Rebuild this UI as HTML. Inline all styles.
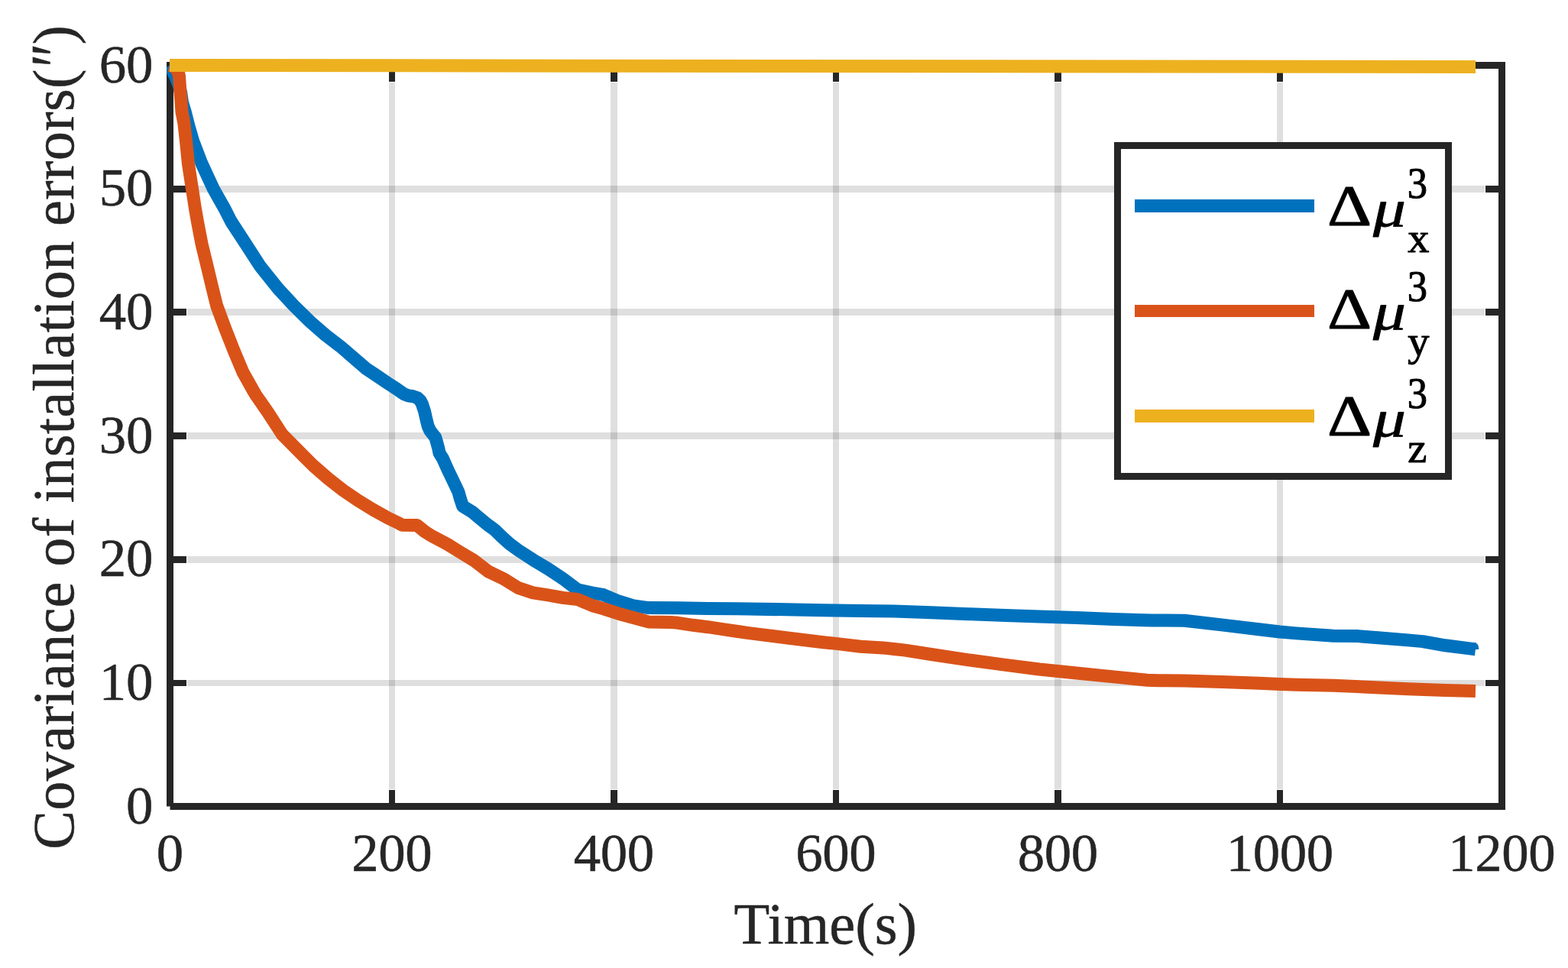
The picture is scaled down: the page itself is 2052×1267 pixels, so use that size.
<!DOCTYPE html>
<html lang="en"><head><meta charset="utf-8"><title>Covariance of installation errors</title>
<style>html,body{margin:0;padding:0;background:#fff;}body{width:2052px;height:1267px;overflow:hidden;}svg{display:block;}text{font-family:"Liberation Serif","DejaVu Serif",serif;}</style></head><body>
<svg width="2052" height="1267" viewBox="0 0 2052 1267">
<rect width="2052" height="1267" fill="#fff"/>
<g fill="#262626" fill-opacity="0.15" shape-rendering="crispEdges">
<rect x="509" y="108" width="8" height="925"/>
<rect x="799" y="108" width="9" height="925"/>
<rect x="1090" y="108" width="8" height="925"/>
<rect x="1380" y="108" width="9" height="925"/>
<rect x="1671" y="108" width="8" height="925"/>
<rect x="245" y="243" width="1698" height="9"/>
<rect x="245" y="404" width="1698" height="9"/>
<rect x="245" y="566" width="1698" height="9"/>
<rect x="245" y="728" width="1698" height="9"/>
<rect x="245" y="890" width="1698" height="8"/>
</g>
<path d="M222.5 1055.5 H1965.5 V85.5 H222.5 V1055.5" fill="none" stroke="#262626" stroke-width="9" stroke-linejoin="miter" stroke-linecap="butt"/>
<g fill="#262626" shape-rendering="crispEdges">
<rect x="509" y="1034" width="8" height="18"/>
<rect x="509" y="89" width="8" height="18"/>
<rect x="799" y="1034" width="9" height="18"/>
<rect x="799" y="89" width="9" height="18"/>
<rect x="1090" y="1034" width="8" height="18"/>
<rect x="1090" y="89" width="8" height="18"/>
<rect x="1380" y="1034" width="9" height="18"/>
<rect x="1380" y="89" width="9" height="18"/>
<rect x="1671" y="1034" width="8" height="18"/>
<rect x="1671" y="89" width="8" height="18"/>
<rect x="226" y="243" width="18" height="9"/>
<rect x="1944" y="243" width="18" height="9"/>
<rect x="226" y="404" width="18" height="9"/>
<rect x="1944" y="404" width="18" height="9"/>
<rect x="226" y="566" width="18" height="9"/>
<rect x="1944" y="566" width="18" height="9"/>
<rect x="226" y="728" width="18" height="9"/>
<rect x="1944" y="728" width="18" height="9"/>
<rect x="226" y="890" width="18" height="8"/>
<rect x="1944" y="890" width="18" height="8"/>
</g>
<defs><clipPath id="cp"><rect x="218.2" y="60" width="1760" height="1010"/></clipPath></defs>
<g fill="none" stroke-width="17" stroke-linejoin="round" stroke-linecap="butt" clip-path="url(#cp)">
<path stroke="#0072bd" d="M222.5 85.5 L229.0 99.0 L234.0 111.0 L236.8 122.0 L238.5 134.0 L242.3 146.7 L247.0 165.0 L252.8 185.0 L264.0 214.2 L279.4 247.4 L293.7 272.7 L302.5 290.0 L321.5 319.2 L340.5 348.5 L363.9 377.7 L384.5 400.0 L406.5 421.6 L425.9 438.5 L445.4 453.4 L464.9 470.2 L480.0 483.2 L489.7 489.5 L499.5 496.1 L509.2 502.7 L519.0 509.0 L528.7 515.8 L534.6 518.0 L540.4 518.7 L546.3 520.7 L550.2 524.6 L552.3 528.5 L555.5 538.2 L557.7 548.0 L560.1 557.7 L562.8 563.6 L565.8 567.5 L569.7 572.3 L571.1 577.2 L573.8 587.0 L575.0 593.0 L579.4 600.0 L585.9 614.6 L592.9 629.2 L599.9 643.9 L602.6 653.6 L605.6 662.4 L618.2 670.2 L628.0 678.5 L637.7 686.5 L647.5 693.6 L657.2 703.1 L667.0 711.9 L678.0 720.0 L697.5 732.7 L717.0 744.4 L736.5 757.3 L755.9 771.9 L775.4 776.0 L790.0 778.7 L809.5 787.0 L829.0 792.8 L848.5 795.6 L887.5 795.8 L926.5 796.4 L965.4 796.7 L980.0 797.0 L1028.7 797.8 L1077.5 798.7 L1126.2 799.5 L1170.0 800.1 L1218.7 801.7 L1267.5 803.7 L1316.2 805.5 L1360.0 806.9 L1408.7 808.4 L1457.5 810.5 L1506.2 811.9 L1550.0 812.3 L1598.7 817.9 L1647.5 823.8 L1674.8 827.0 L1696.2 828.9 L1745.0 832.3 L1777.2 832.6 L1803.5 834.7 L1842.5 837.9 L1862.0 839.6 L1891.2 844.8 L1925.3 849.1 L1931.0 849.8"/>
<path fill="#0072bd" stroke="none" d="M1930.5 841.4 Q1934.6 842.3 1935.2 848 V850 H1930.5 Z"/>
<path stroke="#d95319" d="M222.5 85.5 L229.0 88.0 L233.3 94.0 L234.5 99.7 L235.5 114.4 L236.9 131.5 L238.0 146.7 L240.8 161.0 L243.5 185.0 L246.4 214.2 L251.5 247.4 L255.4 272.7 L258.4 290.0 L264.0 319.2 L271.1 348.5 L278.1 377.7 L283.6 400.0 L294.4 429.2 L305.9 458.5 L318.2 487.7 L330.7 510.0 L334.8 517.0 L350.2 539.2 L369.2 568.5 L398.9 598.5 L410.0 609.5 L429.5 626.5 L449.0 641.7 L468.5 655.1 L488.0 667.0 L507.5 677.9 L522.1 684.9 L526.0 687.2 L545.5 687.4 L556.2 696.0 L566.0 702.1 L585.4 712.3 L600.0 721.4 L619.5 733.1 L639.0 748.0 L658.5 757.3 L678.0 769.4 L697.5 775.8 L717.0 778.9 L736.5 782.4 L755.9 784.5 L775.4 792.8 L790.0 796.8 L809.5 803.2 L829.0 808.5 L848.5 813.9 L877.7 814.4 L887.5 815.3 L907.0 818.3 L926.5 820.7 L945.9 823.6 L965.4 826.5 L980.0 828.6 L1028.7 834.8 L1077.5 840.7 L1094.0 842.4 L1126.2 846.3 L1155.4 847.9 L1170.0 849.5 L1184.6 851.1 L1218.7 856.5 L1267.5 863.8 L1316.2 870.4 L1360.0 876.0 L1408.7 881.0 L1457.5 885.9 L1501.3 890.3 L1516.0 890.8 L1550.0 890.9 L1598.7 892.5 L1647.5 894.2 L1674.8 895.4 L1696.2 896.2 L1745.0 897.2 L1793.7 899.5 L1842.5 901.7 L1891.2 903.4 L1931.0 904.4"/>
<path stroke="#edb120" d="M222.0 85.5 L1931.0 87.5"/>
</g>
<g fill="#262626" stroke="#262626" stroke-width="0.5" font-size="70.80" letter-spacing="-0.35">
<text x="222.32" y="1140.20" text-anchor="middle">0</text>
<text x="512.83" y="1140.20" text-anchor="middle">200</text>
<text x="803.33" y="1140.20" text-anchor="middle">400</text>
<text x="1093.83" y="1140.20" text-anchor="middle">600</text>
<text x="1384.33" y="1140.20" text-anchor="middle">800</text>
<text x="1674.83" y="1140.20" text-anchor="middle">1000</text>
<text x="1965.33" y="1140.20" text-anchor="middle">1200</text>
<text x="199.95" y="1077.60" text-anchor="end">0</text>
<text x="199.95" y="915.93" text-anchor="end">10</text>
<text x="199.95" y="754.27" text-anchor="end">20</text>
<text x="199.95" y="592.60" text-anchor="end">30</text>
<text x="199.95" y="430.93" text-anchor="end">40</text>
<text x="199.95" y="269.27" text-anchor="end">50</text>
<text x="199.95" y="107.60" text-anchor="end">60</text>
</g>
<text fill="#262626" stroke="#262626" stroke-width="0.5" font-size="76.50" x="1080.20" y="1234.90" text-anchor="middle">Time(s)</text>
<g fill="#262626" stroke="#262626" stroke-width="0.5" font-size="76.50" transform="translate(95.60 1112.00) rotate(-90)">
<text x="0" y="0" textLength="1021.50" lengthAdjust="spacing">Covariance of installation errors(</text>
<text font-style="italic" transform="translate(1019.45 10.3) scale(0.9716 1.2465)">″</text>
<text x="1053.6" y="0">)</text>
</g>
<rect x="1462.5" y="190.5" width="433" height="433" fill="#fff" stroke="#262626" stroke-width="9"/>
<g shape-rendering="crispEdges">
<rect fill="#0072bd" x="1485" y="261" width="235" height="17"/>
<rect fill="#d95319" x="1485" y="399" width="235" height="16"/>
<rect fill="#edb120" x="1485" y="536" width="235" height="17"/>
</g>
<g fill="#000" stroke="#000" stroke-linejoin="round">
<text font-size="75.00" stroke-width="1.1" transform="translate(1737.06 295.20) scale(1.2050 1.0080)">Δ</text>
<text font-size="75.00" stroke-width="0.9" font-style="italic" transform="translate(1797.09 295.80) scale(1.1380 0.9115)">μ</text>
<text font-size="56.50" stroke-width="1" transform="translate(1841.80 258.80) scale(0.9300 1)">3</text>
<text font-size="56.50" stroke-width="1" transform="translate(1842.30 329.90) scale(1 0.9600)">x</text>
</g>
<g fill="#000" stroke="#000" stroke-linejoin="round">
<text font-size="75.00" stroke-width="1.1" transform="translate(1737.06 430.30) scale(1.2050 1.0080)">Δ</text>
<text font-size="75.00" stroke-width="0.9" font-style="italic" transform="translate(1797.09 430.90) scale(1.1380 0.9115)">μ</text>
<text font-size="56.50" stroke-width="1" transform="translate(1841.80 393.90) scale(0.9300 1)">3</text>
<text font-size="56.50" stroke-width="1" transform="translate(1842.30 465.00) scale(1 0.9600)">y</text>
</g>
<g fill="#000" stroke="#000" stroke-linejoin="round">
<text font-size="75.00" stroke-width="1.1" transform="translate(1737.06 570.30) scale(1.2050 1.0080)">Δ</text>
<text font-size="75.00" stroke-width="0.9" font-style="italic" transform="translate(1797.09 570.90) scale(1.1380 0.9115)">μ</text>
<text font-size="56.50" stroke-width="1" transform="translate(1841.80 533.90) scale(0.9300 1)">3</text>
<text font-size="56.50" stroke-width="1" transform="translate(1842.30 605.00) scale(1 0.9600)">z</text>
</g>
</svg></body></html>
